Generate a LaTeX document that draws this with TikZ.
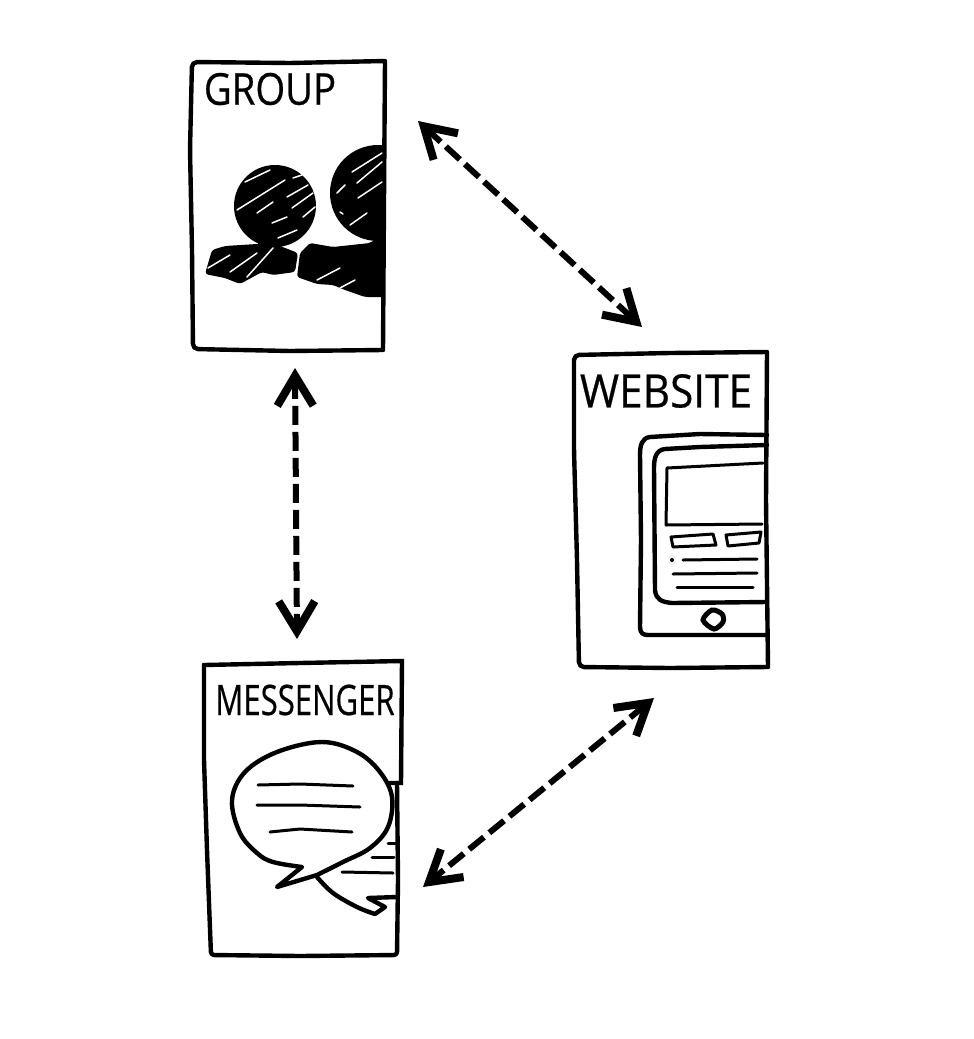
\documentclass[tikz,border=0pt]{standalone}
\usepackage{fontspec}
\setmainfont[FakeBold=0.5]{Open Sans}
\usetikzlibrary{arrows.meta, positioning}
\tikzset{
	ink/.style      ={line width=4.4pt, line join=round, line cap=round},
	cardedge/.style ={ink, rounded corners=5pt},
	finepen/.style  ={line width=3pt, line cap=round, line join=round},
	cardlabel/.style={font=\fontsize{44}{44}\selectfont, inner sep=0pt, transform shape},
	linkarrow/.style={{Straight Barb[length=30pt, width=36pt, line width=8pt]}-{Straight Barb[length=30pt, width=36pt, line width=8pt]}, line width=6pt, dash pattern=on 19pt off 7pt},
	scratch/.style  ={white, line width=1.5pt, line cap=round},
}
\begin{document}
\begin{tikzpicture}[x=1pt, y=-1pt]
	\useasboundingbox (0,0) rectangle (974,1039);
	\fill[white] (0,0) rectangle (974,1039);
	% ---------- group card ----------
	\draw[cardedge] (192,62) [sharp corners] -- (290,63) -- (385,61) -- (384,200) -- (383,350) -- (290,351) [rounded corners=5pt] -- (193,349) -- (192,250) -- (190,150) -- cycle;
	\node[cardlabel, xscale=0.87] (grouptitle) at (270,89) {GROUP};
	% two heads with shoulders, cut off at the card edge
	\begin{scope}
		\clip (190,62) rectangle (384,351);
		\fill (275,206) circle (41pt);
		\fill (378,193) circle (48pt);
		\fill (258,238) rectangle (282,252);
		\fill[rounded corners=3pt] (205,274) -- (212,250) -- (225,246) -- (257,244) -- (280,246) -- (298,253) -- (295,272) -- (273,275) -- (262,272) -- (240,284) -- (225,278) -- cycle;
		\fill[rounded corners=2pt] (297,277) -- (300,253) -- (310,243) -- (333,247) -- (370,243) -- (386,232) -- (386,297) -- (365,297) -- (345,290) -- (333,285) -- (317,284) -- cycle;
	\end{scope}
	% pen strokes left open in the black
	\foreach \xa/\ya/\xb/\yb in {237/210/285/180, 245/182/270/170, 257/213/273/202, 287/197/308/185, 292/208/313/193, 272/223/287/217, 278/238/297/230, 303/217/315/207, 293/178/302/175, 352/172/382/153, 357/183/382/162, 337/193/345/185, 358/198/382/182, 340/212/343/214, 350/225/367/213, 208/268/230/255, 230/272/257/253, 247/277/273/248, 317/280/340/268, 340/288/355/280}
		\draw[scratch] (\xa,\ya) -- (\xb,\yb);
	% ---------- website card ----------
	\draw[cardedge] (574,355) [sharp corners] -- (670,353) -- (767,352) -- (766,500) -- (768,667) -- (670,668) [rounded corners=5pt] -- (579,667) -- (577,560) -- (574,450) -- cycle;
	\node[cardlabel, xscale=0.92, font=\fontsize{46}{46}\selectfont] (websitetitle) at (666,391) {WEBSITE};
	% tablet
	\draw[ink] (767,435) -- (700,434) -- (650,437) .. controls (642,438) and (640,445) .. (640,455) -- (641,540) -- (640,627) .. controls (640,633) and (643,635) .. (648,635) -- (767,635);
	\draw[ink] (767,445) -- (700,447) -- (665,449) .. controls (656,450) and (654,458) .. (654,468) -- (655,590) .. controls (656,600) and (662,602) .. (672,603) -- (767,602);
	\draw[finepen] (763,463) -- (667,468) -- (666,525) -- (762,524);
	\draw[finepen] (671,537) -- (713,534) -- (716,545) -- (673,547) -- cycle;
	\draw[finepen] (726,535) -- (761,532) -- (759,543) -- (728,546) -- cycle;
	\fill (672,560) circle (2pt);
	\draw[finepen] (683,560) -- (757,559);
	\draw[finepen] (673,574) -- (757,573);
	\draw[finepen] (677,587) -- (753,587);
	\draw[line width=5pt] plot[smooth cycle, tension=0.5] coordinates {(703,620) (712,610) (722,614) (723,622) (714,629)};
	% ---------- messenger card ----------
	\draw[ink, line join=miter] (204,665) -- (300,663) -- (402,661) -- (401,783) -- (390,783);
	\draw[cardedge, rounded corners=3pt] (397,783) -- (398,880) -- (397,955) -- (300,956) -- (211,955) -- (207,850) -- (204,760) -- (204,665);
	\node[cardlabel, xscale=0.74, font=\fontsize{42}{42}\selectfont] (messengertitle) at (305,700) {MESSENGER};
	% speech bubbles
	\draw[ink, fill=white] plot[smooth, tension=0.6] coordinates {(302,867) (273,862) (257,853) (240,833) (232,800) (245,772) (277,752) (322,742) (357,752) (380,772) (392,797) (388,827) (370,848) (343,862) (317,875)} -- (277,887) -- cycle;
	\draw[finepen] (258,785) -- (300,784) -- (353,786);
	\draw[finepen] (257,805) -- (300,805) -- (360,807);
	\draw[finepen] (270,832) -- (300,829) -- (352,832);
	\draw[finepen] (388,843) -- (397,843);
	\draw[finepen] (372,857) -- (394,857);
	\draw[finepen] (342,872) -- (393,873);
	\draw[ink] plot[smooth, tension=0.6] coordinates {(317,877) (333,893) (357,907) (375,914)} -- (385,907) -- (368,898) -- (397,897);
	% ---------- links between the cards ----------
	\coordinate (groupright) at (418,121);
	\coordinate (websitetop) at (642,327);
	\coordinate (groupbottom) at (295,368);
	\coordinate (messengertop) at (297,639);
	\coordinate (websitebottom) at (654,698);
	\coordinate (messengerright) at (423,887);
	\draw[linkarrow] (groupright) -- (websitetop);
	\draw[linkarrow] (groupbottom) -- (messengertop);
	\draw[linkarrow] (websitebottom) -- (messengerright);
\end{tikzpicture}
\end{document}
